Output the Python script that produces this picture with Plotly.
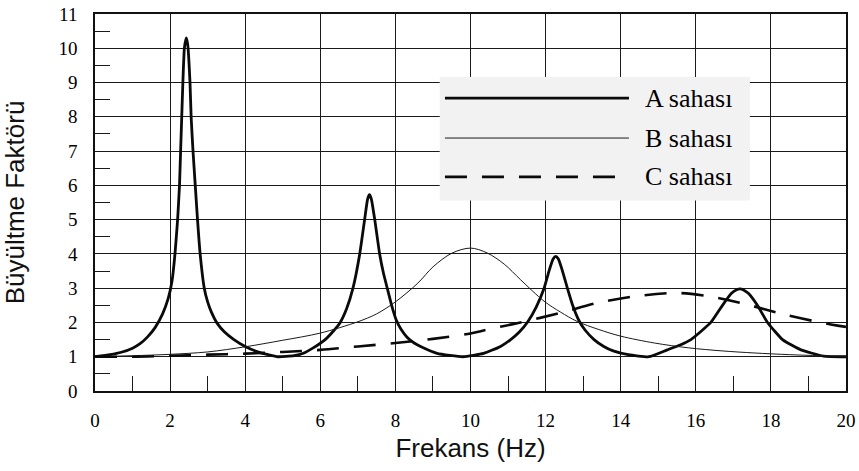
import plotly.graph_objects as go

# ---- data ----
freq_A = [0, 0.4, 0.7, 1.0, 1.2, 1.4, 1.6, 1.8, 1.95, 2.05, 2.13, 2.2, 2.25, 2.28, 2.31, 2.34,
          2.38, 2.43, 2.47, 2.53, 2.56, 2.61, 2.67, 2.73, 2.8, 2.91, 3.0, 3.1, 3.25, 3.45,
          3.7, 4.0, 4.4, 4.87, 5.3, 5.55, 5.8, 6.13, 6.35, 6.53, 6.7, 6.87, 7.05, 7.18,
          7.26, 7.31, 7.36, 7.45, 7.58, 7.68, 7.79, 7.9, 8.02, 8.15, 8.31, 8.5, 8.67, 9.11,
          9.8, 10.35, 10.8, 11.07, 11.3, 11.53, 11.75, 11.96, 12.09, 12.2, 12.27, 12.34,
          12.45, 12.58, 12.72, 12.89, 13.05, 13.29, 13.55, 13.8, 14.2, 14.75, 15.24, 15.6,
          15.87, 16.15, 16.4, 16.71, 16.95, 17.1, 17.18, 17.27, 17.4, 17.64, 17.91, 18.31,
          18.8, 19.4, 20.0]
amp_A = [1.0, 1.06, 1.13, 1.25, 1.38, 1.58, 1.85, 2.25, 2.7, 3.2, 4.0, 5.0, 6.0, 7.0, 8.0, 9.0,
         10.0, 10.3, 10.1, 9.0, 8.0, 7.0, 6.0, 5.0, 4.0, 3.0, 2.6, 2.3, 1.98, 1.72,
         1.5, 1.3, 1.12, 1.0, 1.03, 1.1, 1.25, 1.5, 1.75, 2.0, 2.4, 3.0, 4.0, 5.0,
         5.6, 5.73, 5.6, 5.0, 4.0, 3.45, 2.97, 2.5, 2.08, 1.8, 1.57, 1.4, 1.3, 1.1,
         1.0, 1.1, 1.3, 1.5, 1.72, 2.03, 2.45, 3.0, 3.5, 3.85, 3.93, 3.85,
         3.5, 3.0, 2.5, 2.05, 1.78, 1.5, 1.3, 1.17, 1.06, 1.0, 1.2, 1.35,
         1.5, 1.75, 2.0, 2.5, 2.85, 2.96, 2.98, 2.95, 2.85, 2.5, 2.0, 1.5,
         1.2, 1.02, 1.0]

freq_B = [0, 1, 2, 3, 4, 5, 6, 7, 7.5, 8, 8.6, 9, 9.5, 10, 10.44, 10.9, 11.33, 11.96,
          12.4, 12.84, 13.4, 14, 14.9, 15.8, 16.7, 17.55, 18.5, 19.3, 20]
amp_B = [1.0, 1.03, 1.07, 1.14, 1.29, 1.48, 1.69, 2.02, 2.25, 2.6, 3.15, 3.62, 4.02, 4.17,
         4.03, 3.7, 3.25, 2.62, 2.3, 2.03, 1.8, 1.6, 1.4, 1.26, 1.17, 1.11, 1.06, 1.03, 1.01]

freq_C = [0, 1, 2, 3, 4, 5, 6, 7, 8, 9, 10, 10.44, 11.33, 12.4, 13.38, 14.36, 15.5,
          16.31, 17.2, 18.36, 19.6, 20]
amp_C = [1.0, 1.0, 1.03, 1.06, 1.09, 1.14, 1.2, 1.3, 1.4, 1.52, 1.68, 1.79, 2.0, 2.28,
         2.57, 2.76, 2.86, 2.77, 2.57, 2.23, 1.94, 1.87]

series_names = ["A sahası", "B sahası", "C sahası"]
x_ticks = [0, 2, 4, 6, 8, 10, 12, 14, 16, 18, 20]
y_ticks = list(range(0, 12))
x_minor = [1, 3, 5, 7, 9, 11, 13, 15, 17, 19]
y_minor = [0.5 + i for i in range(11)]

x_title = "Frekans (Hz)"
y_title = "Büyültme Faktörü"

# ---- styles ----
styles = [
    dict(color="#0a0a0a", width=2.8),
    dict(color="#1a1a1a", width=1.0),
    dict(color="#0a0a0a", width=2.6, dash="22px,15px"),
]
smoothing = [0.45, 0.9, 0.9]

fig = go.Figure()
for xs, ys, name, st, sm in zip([freq_A, freq_B, freq_C], [amp_A, amp_B, amp_C],
                                series_names, styles, smoothing):
    fig.add_trace(go.Scatter(x=xs, y=ys, mode="lines", name=name, line=st,
                             line_shape="spline", line_smoothing=sm, showlegend=False,
                             hoverinfo="skip"))

serif = "Liberation Serif"
sans = "Liberation Sans"

# ---- custom legend (layout decoration, paper coords) ----
legend_box = dict(x0=0.459, x1=0.872, y0=0.505, y1=0.833)
legend_rows = [0.777, 0.671, 0.568]
line_x0, line_x1, text_x = 0.466, 0.711, 0.730

shapes = [dict(type="rect", xref="paper", yref="paper", layer="above",
               fillcolor="#f2f2f2", line=dict(width=0), **legend_box)]
annotations = []
for name, st, yy in zip(series_names, styles, legend_rows):
    shapes.append(dict(type="line", xref="paper", yref="paper", layer="above",
                       x0=line_x0, x1=line_x1, y0=yy, y1=yy, line=st))
    annotations.append(dict(xref="paper", yref="paper", x=text_x, y=yy, text=name,
                            showarrow=False, xanchor="left", yanchor="middle",
                            font=dict(family=serif, size=26, color="#000000")))

fig.update_layout(
    width=859, height=471,
    margin=dict(l=95, r=13, t=14, b=80, autoexpand=False),
    paper_bgcolor="white", plot_bgcolor="white",
    shapes=shapes, annotations=annotations,
    showlegend=False,
)

fig.update_xaxes(
    range=[0, 20], tickvals=x_ticks, ticktext=[str(v) for v in x_ticks],
    showgrid=True, gridcolor="#1a1a1a", gridwidth=1.1,
    showline=True, linecolor="#111111", linewidth=1.6, mirror=True,
    ticks="", zeroline=False, ticklabelstandoff=11, automargin=False,
    ticklabeloverflow="allow",
    tickfont=dict(family=serif, size=19, color="#000000"),
    minor=dict(tickvals=x_minor, ticks="inside", ticklen=15, tickwidth=1.2,
               tickcolor="#1a1a1a", showgrid=False),
    title=dict(text=x_title, font=dict(family=sans, size=26, color="#111111"), standoff=9),
)
fig.update_yaxes(
    range=[0, 11], tickvals=y_ticks, ticktext=[str(v) for v in y_ticks],
    showgrid=True, gridcolor="#1a1a1a", gridwidth=1.1,
    showline=True, linecolor="#111111", linewidth=1.6, mirror=True,
    ticks="", zeroline=False, ticklabelstandoff=12, automargin=False,
    ticklabeloverflow="allow",
    tickfont=dict(family=serif, size=19, color="#000000"),
    minor=dict(tickvals=y_minor, ticks="inside", ticklen=15, tickwidth=1.2,
               tickcolor="#1a1a1a", showgrid=False),
    title=dict(text=y_title, font=dict(family=sans, size=26, color="#111111"), standoff=34),
)

# remove the page's default body margin so the figure fills the 859x471 window exactly
fig.write_html("out.html", config={"displayModeBar": False},
               post_script="document.body.style.margin='0';")
